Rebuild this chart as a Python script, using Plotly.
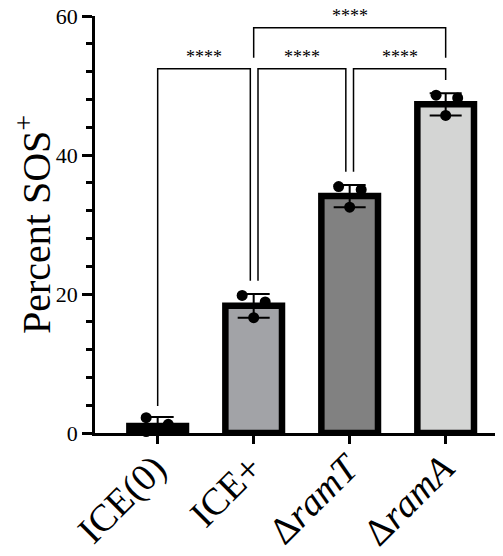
import plotly.graph_objects as go

# ---- data ----
categories = ["ICE(0)", "ICE+", "ΔramT", "ΔramA"]
tick_labels = ["ICE(0)", "ICE+", "Δ<i>ramT</i>", "Δ<i>ramA</i>"]
means = [1.0, 18.3, 34.1, 47.3]
sds = [1.3, 1.7, 1.6, 1.6]
replicates = [
    [2.2, 1.25, 0.2],
    [19.8, 18.85, 16.6],
    [35.45, 35.0, 32.5],
    [48.6, 48.2, 45.7],
]
jitter = [
    [-0.12, 0.11, -0.12],
    [-0.12, 0.12, 0.0],
    [-0.115, 0.12, 0.0],
    [-0.10, 0.125, 0.0],
]
bar_colors = ["#000000", "#a2a3a7", "#818181", "#d4d5d4"]

# significance comparisons: (left idx, right idx, left offset, right offset, top, left-leg end, right-leg end, label)
comparisons = [
    (0, 1, 0.0, -0.035, 52.4, 3.9, 21.9, "****"),
    (1, 2, 0.045, -0.04, 52.4, 21.9, 37.6, "****"),
    (2, 3, 0.04, 0.0, 52.4, 37.6, 50.8, "****"),
    (1, 3, 0.0, 0.0, 58.3, 54.0, 54.0, "****"),
]

FONT = "Liberation Serif"
xs = list(range(len(categories)))

fig = go.Figure()
fig.add_trace(go.Bar(
    x=xs, y=means, width=0.59,
    marker=dict(color=bar_colors, line=dict(color="black", width=6.5)),
    error_y=dict(type="data", array=sds, visible=True, color="black",
                 thickness=2, width=16),
    showlegend=False,
))

px_, py_ = [], []
for i, (vals, offs) in enumerate(zip(replicates, jitter)):
    for v, o in zip(vals, offs):
        px_.append(i + o)
        py_.append(v)
fig.add_trace(go.Scatter(
    x=px_, y=py_, mode="markers",
    marker=dict(color="black", size=11, line=dict(width=0)),
    showlegend=False, cliponaxis=False,
))

for a, b, oa, ob, top, ya, yb, lab in comparisons:
    xa, xb = a + oa, b + ob
    fig.add_shape(type="path", xref="x", yref="y",
                  path=f"M {xa},{ya} L {xa},{top} L {xb},{top} L {xb},{yb}",
                  line=dict(color="black", width=1.5))
    fig.add_annotation(x=(xa + xb) / 2, y=top, xref="x", yref="y", text=lab,
                       showarrow=False, yanchor="bottom",
                       font=dict(family=FONT, size=18, color="black"))

# page body has an 8px margin, so margins are offset to place the plot area
fig.update_layout(
    width=503, height=556,
    margin=dict(l=87, r=11, t=7.5, b=131, autoexpand=False),
    plot_bgcolor="white", paper_bgcolor="white",
    font=dict(family=FONT, color="black"),
)
fig.update_xaxes(
    range=[-0.653, 3.566], tickvals=xs, ticktext=tick_labels,
    tickangle=-45, tickfont=dict(size=38, family=FONT),
    ticklabelstandoff=-13, ticklabelshift=-3, ticklabeloverflow="allow",
    showline=True, linecolor="black", linewidth=2.5,
    ticks="outside", ticklen=8, tickwidth=2.5, tickcolor="black",
    showgrid=False, zeroline=False, automargin=False,
)
fig.update_yaxes(
    range=[0, 60], tickvals=[0, 20, 40, 60],
    tickfont=dict(size=22, family=FONT), ticklabeloverflow="allow",
    title=dict(text="Percent SOS<sup>+</sup>", font=dict(size=40, family=FONT), standoff=25),
    showline=True, linecolor="black", linewidth=2.5,
    ticks="outside", ticklen=10, tickwidth=2.5, tickcolor="black",
    minor=dict(dtick=4, ticks="outside", ticklen=6, tickwidth=2.5, tickcolor="black"),
    showgrid=False, zeroline=False, automargin=False,
)

fig.write_html("out.html")
